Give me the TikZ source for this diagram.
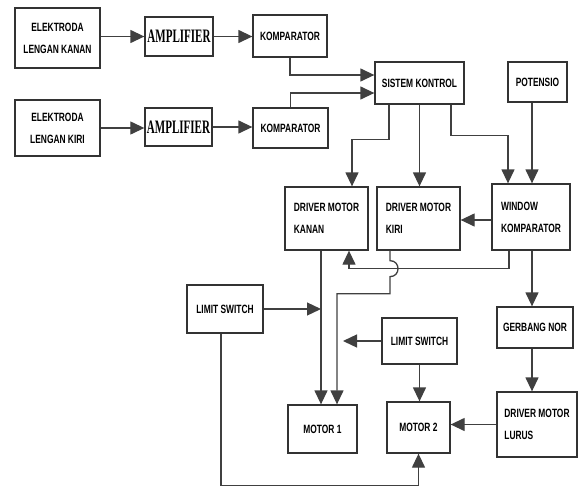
\documentclass[tikz,border=0pt]{standalone}
\usepackage{fontspec}
\newfontfamily\boxfont[FakeStretch=0.7]{Liberation Sans}
\newfontfamily\ampfont[FakeStretch=0.58]{Liberation Serif}
\usetikzlibrary{positioning, arrows.meta}

\begin{document}
\begin{tikzpicture}[
        x=1pt, y=-1pt,
        box/.style={rectangle, draw=black!80, fill=white, line width=1.3pt, align=center, inner sep=2pt,
            font=\boxfont\bfseries\fontsize{12}{22}\selectfont},
        lbox/.style={box, align=left},
        ampbox/.style={box, font=\ampfont\bfseries\fontsize{19}{20}\selectfont},
        arrow/.style={-{Triangle[length=14pt, width=13pt]}, line width=1.3pt, draw=black!75}
    ]
        \useasboundingbox (0,0) rectangle (582,488);

        % Input side
        \node[box, minimum width=85pt, minimum height=60pt] (ekanan) at (57.5,38) {ELEKTRODA\\LENGAN KANAN};
        \node[ampbox, minimum width=68pt, minimum height=39pt] (amp1) at (179,36.5) {AMPLIFIER};
        \node[box, minimum width=74pt, minimum height=42pt] (komp1) at (290,36) {KOMPARATOR};
        \node[box, minimum width=85pt, minimum height=56pt] (ekiri) at (57.5,128) {ELEKTRODA\\LENGAN KIRI};
        \node[ampbox, minimum width=67pt, minimum height=38pt] (amp2) at (178.5,127) {AMPLIFIER};
        \node[box, minimum width=75pt, minimum height=40pt] (komp2) at (290.5,128) {KOMPARATOR};

        % Control
        \node[box, minimum width=89pt, minimum height=42pt] (sistem) at (419.5,83) {SISTEM KONTROL};
        \node[box, minimum width=59pt, minimum height=40pt] (potensio) at (537.5,82) {POTENSIO};
        \node[lbox, minimum width=83pt, minimum height=63pt] (drvkanan) at (326.5,218.5) {DRIVER MOTOR\\KANAN};
        \node[lbox, minimum width=83pt, minimum height=63pt] (drvkiri) at (418.5,218.5) {DRIVER MOTOR\\KIRI\phantom{Y}};
        \node[lbox, minimum width=78pt, minimum height=66pt] (window) at (531,217) {WINDOW\\KOMPARATOR};
        \node[box, minimum width=76pt, minimum height=41pt] (nor) at (535,327.5) {GERBANG NOR};
        \node[lbox, minimum width=80pt, minimum height=65pt] (lurus) at (537,424.5) {DRIVER MOTOR\\LURUS};

        % Motors and switches
        \node[box, minimum width=76pt, minimum height=48pt] (ls1) at (225,309) {LIMIT SWITCH};
        \node[box, minimum width=75pt, minimum height=46pt] (ls2) at (419.5,341) {LIMIT SWITCH};
        \node[box, minimum width=69pt, minimum height=48pt] (motor1) at (322.5,429) {MOTOR 1};
        \node[box, minimum width=63pt, minimum height=51pt] (motor2) at (418.5,427.5) {MOTOR 2};
        \coordinate (mtip) at ([xshift=20.5pt]motor1.north);

        % Connections
        \draw[arrow] (ekanan.east |- amp1.west) -- (amp1.west);
        \draw[arrow] (amp1.east) -- (amp1.east -| komp1.west);
        \draw[arrow] (ekiri.east) -- (amp2.west |- ekiri.east);
        \draw[arrow] (amp2.east) -- (amp2.east -| komp2.west);
        \draw[arrow] (komp1.south) |- ([yshift=8pt]sistem.west);
        \draw[arrow] (komp2.north) |- ([yshift=-10pt]sistem.west);
        \draw[arrow] ([xshift=-30.5pt]sistem.south) -- ++(0,35) -| ([xshift=25.5pt]drvkanan.north);
        \draw[arrow] (sistem.south) -- (sistem.south |- drvkiri.north);
        \draw[arrow] ([xshift=31.5pt]sistem.south) -- ++(0,31) -| ([xshift=-23pt]window.north);
        \draw[arrow] ([xshift=-5.5pt]potensio.south) -- ([xshift=-5.5pt]potensio.south |- window.north);
        \draw[arrow] ([yshift=-3pt]window.west) -- ([yshift=-3pt]window.west -| drvkiri.east);
        \draw[arrow] ([xshift=-22pt]window.south) -- ++(0,18) -| ([xshift=22.5pt]drvkanan.south);
        \draw[arrow] ([xshift=-28.5pt]drvkiri.south) -- ++(0,10)
            .. controls +(10.7,0) and +(10.7,0) .. ++(0,16) -- ++(0,17) -| ([xshift=14.5pt]motor1.north);
        \draw[arrow] ([xshift=-5.5pt]drvkanan.south) coordinate (kline) -- (kline |- motor1.north);
        \draw[arrow] (ls1.east) -- (ls1.east -| kline);
        \draw[arrow] (ls2.west) -- (ls2.west -| mtip);
        \draw[arrow] (ls2.south) -- (ls2.south |- motor2.north);
        \draw[arrow] ([xshift=1pt]window.south) -- ([xshift=1pt]window.south |- nor.north);
        \draw[arrow] ([xshift=-3pt]nor.south) -- ([xshift=-3pt]nor.south |- lurus.north);
        \draw[arrow] (lurus.west) -- (lurus.west -| motor2.east);
        \draw[arrow] ([xshift=-4pt]ls1.south) -- ++(0,152) -| (motor2.south);
    \end{tikzpicture}
\end{document}
